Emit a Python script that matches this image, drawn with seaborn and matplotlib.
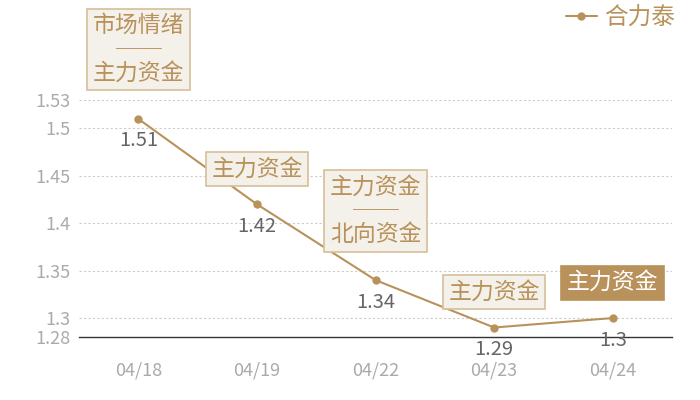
import matplotlib
matplotlib.use('Agg')
import matplotlib.pyplot as plt
import seaborn as sns
import pandas as pd

# 数据
dates = ['04/18', '04/19', '04/22', '04/23', '04/24']
prices = [1.51, 1.42, 1.34, 1.29, 1.30]
notes = ['市场情绪\n──\n主力资金', '主力资金', '主力资金\n──\n北向资金', '主力资金', '主力资金']
yticks = [1.28, 1.3, 1.35, 1.4, 1.45, 1.5, 1.53]
ytick_labels = ['1.28', '1.3', '1.35', '1.4', '1.45', '1.5', '1.53']
series_name = '合力泰'

gold = '#b8925a'
df = pd.DataFrame({'date': dates, 'price': prices})

sns.set_style('white')
plt.rcParams['font.family'] = ['Noto Sans CJK SC', 'DejaVu Sans']

fig = plt.figure(figsize=(7, 4), dpi=100)
ax = fig.add_axes([0.113, 0.1575, 0.847, 0.5925])

sns.lineplot(data=df, x='date', y='price', ax=ax, color=gold, linewidth=1.5,
             marker='o', markersize=6, markeredgewidth=0, label=series_name)

ax.set_xlim(-0.5, len(dates) - 0.5)
ax.set_ylim(yticks[0], yticks[-1])
ax.set_yticks(yticks)
ax.set_yticklabels(ytick_labels)
ax.set_xlabel('')
ax.set_ylabel('')
ax.tick_params(axis='both', length=0, labelsize=13, colors='#aaaaaa')
ax.tick_params(axis='x', pad=17.5)
ax.tick_params(axis='y', pad=6)
for t in yticks[1:]:
    ax.axhline(t, color='#cccccc', linewidth=0.8, linestyle=(0, (2, 2)), zorder=0)

for s in ['left', 'right', 'top']:
    ax.spines[s].set_visible(False)
ax.spines['bottom'].set_color('#333333')
ax.spines['bottom'].set_linewidth(1)

# 数值标签
for i, v in enumerate(prices):
    ax.annotate(f'{v:g}', xy=(i, v), xytext=(0, -22), textcoords='offset pixels',
                ha='center', va='center', fontsize=14.5, color='#666666')

# 注释框
for i, (v, note) in enumerate(zip(prices, notes)):
    last = i == len(prices) - 1
    off = 34 if '\n' in note else 24
    ax.annotate(note, xy=(i, v), xytext=(0, off), textcoords='offset pixels',
                ha='center', va='bottom', fontsize=16.5, linespacing=1.05,
                color='white' if last else gold,
                bbox=dict(boxstyle='square,pad=0.24',
                          facecolor=gold if last else '#f4f0ea',
                          edgecolor='#d6bf98' if not last else gold,
                          linewidth=1.2),
                annotation_clip=False)

ax.legend_.remove()
h, l = ax.get_legend_handles_labels()
fig.legend(h, l, loc='upper right', bbox_to_anchor=(0.994, 1.0375), frameon=False,
           fontsize=17, labelcolor=gold, handlelength=1.3, handletextpad=0.3)

fig.savefig('out.png', dpi=100)
plt.close(fig)
